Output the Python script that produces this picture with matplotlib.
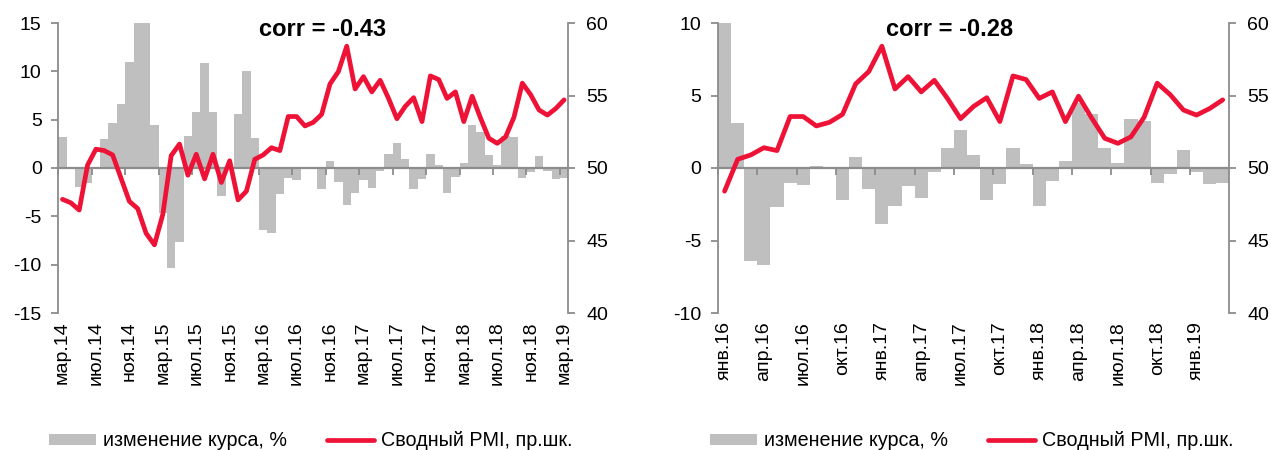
import numpy as np
import matplotlib
matplotlib.use('Agg')
from matplotlib import pyplot as plt

plt.rcParams['font.family'] = ['Liberation Sans', 'DejaVu Sans']

# monthly data, mar.14 .. mar.19
fx_change = [3.2, 0.0, -2.0, -1.5, 0.0, 3.0, 4.7, 6.6, 11.0, 15.0,
             15.0, 4.4, -4.7, -10.3, -7.7, 3.3, 5.8, 10.9, 5.8, -2.9,
             -0.1, 5.6, 10.0, 3.1, -6.4, -6.7, -2.7, -1.0, -1.2, 0.15,
             -0.05, -2.2, 0.75, -1.45, -3.85, -2.6, -1.25, -2.1, -0.3, 1.4,
             2.6, 0.9, -2.2, -1.1, 1.4, 0.3, -2.6, -0.9, 0.5, 4.5,
             3.7, 1.35, 0.35, 3.35, 3.25, -1.0, -0.4, 1.25, -0.3, -1.1,
             -1.05]
pmi = [47.84, 47.6, 47.1, 50.2, 51.3, 51.2, 50.9, 49.3, 47.7, 47.2,
       45.5, 44.7, 46.8, 50.85, 51.65, 49.5, 50.95, 49.25, 50.95, 49.0,
       50.5, 47.8, 48.4, 50.6, 50.9, 51.4, 51.2, 53.55, 53.55, 52.9,
       53.15, 53.7, 55.8, 56.65, 58.4, 55.45, 56.3, 55.25, 56.05, 54.8,
       53.4, 54.25, 54.85, 53.2, 56.35, 56.1, 54.8, 55.25, 53.2, 54.95,
       53.45, 52.05, 51.7, 52.15, 53.5, 55.85, 55.05, 54.0, 53.65, 54.1,
       54.7]
month_names = ['янв', 'фев', 'мар', 'апр', 'май', 'июн',
               'июл', 'авг', 'сен', 'окт', 'ноя', 'дек']
start_year, start_month = 2014, 3   # first value is mar.14

corr_left = -0.43
corr_right = -0.28
right_start = 22   # right chart starts at янв.16

bar_label = 'изменение курса, %'
line_label = 'Сводный PMI, пр.шк.'

RED = '#EE1237'
BAR = '#BFBFBF'
AXC = '#8C8C8C'
FS = 14
LFS = 14.2

labels_all = []
for i in range(len(fx_change)):
    m = (start_month - 1 + i) % 12
    y = start_year + (start_month - 1 + i) // 12
    labels_all.append('{}.{}'.format(month_names[m], str(y)[2:]))


def draw(rect, bars, line, labels, step, ylim, yticks, corr, title_x, legend_x):
    n = len(bars)
    x = np.arange(n)
    ax = fig.add_axes(rect)
    ax.bar(x, bars, width=1.0, color=BAR, label=bar_label, zorder=1)
    ax.set_xlim(-0.5, n - 0.5)
    ax.set_ylim(*ylim)
    ax.set_yticks(yticks)
    ax.set_yticklabels([str(v) for v in yticks])

    for s in ('top', 'right'):
        ax.spines[s].set_visible(False)
    ax.spines['left'].set_color(AXC)
    ax.spines['left'].set_linewidth(1.3)
    ax.spines['bottom'].set_position(('data', 0))
    ax.spines['bottom'].set_color(AXC)
    ax.spines['bottom'].set_linewidth(1.6)
    ax.tick_params(axis='y', direction='out', length=5, width=1.3, color=AXC,
                   labelsize=FS, pad=7)
    ax.set_xticks(np.arange(0, n, step) - 0.5)
    ax.tick_params(axis='x', direction='out', length=5, width=1.3, color=AXC,
                   labelbottom=False)

    sec = ax.secondary_xaxis('bottom')
    sec.set_xticks(np.arange(0, n, step))
    sec.set_xticklabels(labels[::step], rotation=90, fontsize=FS)
    sec.tick_params(length=0, pad=6)
    sec.spines['bottom'].set_visible(False)

    ax2 = ax.twinx()
    ax2.plot(x, line, color=RED, lw=3.4, solid_joinstyle='round',
             solid_capstyle='round', label=line_label)
    ax2.set_ylim(40, 60)
    ax2.set_yticks([40, 45, 50, 55, 60])
    for s in ('top', 'left', 'bottom'):
        ax2.spines[s].set_visible(False)
    ax2.spines['right'].set_color(AXC)
    ax2.spines['right'].set_linewidth(1.3)
    ax2.tick_params(axis='y', direction='out', length=5, width=1.3, color=AXC,
                    labelsize=FS, pad=8)

    fig.text(title_x, 1 - 30 / 450, 'corr = {:.2f}'.format(corr), ha='center',
             va='center', fontsize=17, fontweight='bold')

    h1, l1 = ax.get_legend_handles_labels()
    h2, l2 = ax2.get_legend_handles_labels()
    fig.legend(h1 + h2, l1 + l2, loc='center left',
               bbox_to_anchor=(legend_x, 1 - 441 / 450), ncol=2, frameon=False,
               fontsize=LFS, borderpad=0, handlelength=2.4, handleheight=0.5,
               handletextpad=0.35, columnspacing=2.0)


fig = plt.figure(figsize=(12.71, 4.5), dpi=100)

draw([58.3 / 1271, 1 - 313 / 450, 510 / 1271, 290 / 450],
     fx_change, pmi, labels_all, 4, (-15, 15), [-15, -10, -5, 0, 5, 10, 15],
     corr_left, 323 / 1271, 39 / 1271)

draw([718 / 1271, 1 - 313 / 450, 511.3 / 1271, 290 / 450],
     fx_change[right_start:], pmi[right_start:], labels_all[right_start:], 3,
     (-10, 10), [-10, -5, 0, 5, 10], corr_right, 950 / 1271, 700 / 1271)

fig.savefig('out.png', dpi=100)
